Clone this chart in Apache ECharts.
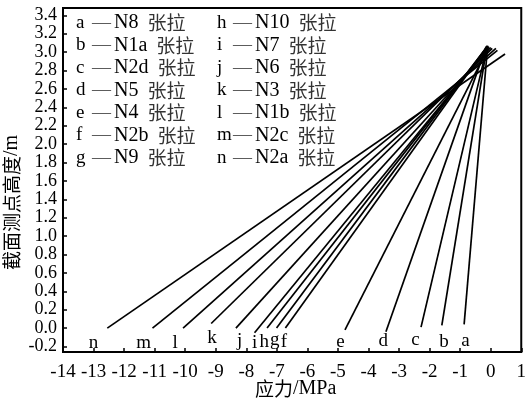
<!DOCTYPE html>
<html>
<head>
<meta charset="utf-8">
<script src="https://cdn.jsdelivr.net/npm/echarts@6/dist/echarts.min.js"></script>
<style>html,body{margin:0;padding:0;background:#fff}#c{width:529px;height:401px}</style>
</head>
<body>
<div id="c"></div>
<script>
// ---- data ----
const letters   = ['a','b','c','d','e','f','g','h','i','j','k','l','m','n'];
const names     = ['N8','N1a','N2d','N5','N4','N2b','N9','N10','N7','N6','N3','N1b','N2c','N2a'];
const bottomX   = [-0.87,-1.60,-2.28,-3.43,-4.77,-6.72,-7.01,-7.32,-7.73,-8.34,-9.15,-10.07,-11.07,-12.55];
const bottomY   = [0.04,0.03,0.01,-0.04,-0.02,0.0,0.0,0.0,-0.05,0.0,0.05,0.0,0.0,0.0];
const topX      = [-0.10,-0.12,-0.12,-0.15,-0.06,-0.12,-0.12,-0.10,-0.08,0.0,0.05,0.17,0.22,0.47];
const topY      = [3.07,3.07,3.06,3.06,3.06,3.06,3.06,3.06,3.05,3.05,3.04,3.04,3.02,2.98];
const labelX    = [-0.83,-1.53,-2.46,-3.52,-4.92,-6.77,-7.07,-7.41,-7.73,-8.22,-9.12,-10.33,-11.36,-13.0];
const labelY    = [-0.14,-0.15,-0.13,-0.14,-0.15,-0.15,-0.13,-0.15,-0.16,-0.14,-0.11,-0.16,-0.16,-0.16];
const yTickVals = [-0.2,0,0.2,0.4,0.6,0.8,1.0,1.2,1.4,1.6,1.8,2.0,2.2,2.4,2.6,2.8,3.0,3.2,3.4];
const xName = '应力/MPa';
const yName = '截面测点高度/m';
const tension = '张拉';

const SERIF = 'Liberation Serif';
const CJK = 'Noto Sans CJK SC';

const series = letters.map((l, i) => ({
  type: 'line',
  name: l,
  data: [[bottomX[i], bottomY[i]], [topX[i], topY[i]]],
  showSymbol: false,
  lineStyle: { color: '#000', width: 1.7 },
  silent: true
}));
series.push({
  type: 'scatter',
  data: letters.map((l, i) => [labelX[i], labelY[i], l]),
  symbolSize: 0.1,
  clip: false,
  itemStyle: { color: '#fff' },
  label: {
    show: true, position: 'inside',
    formatter: p => p.value[2],
    fontFamily: SERIF, fontSize: 19, color: '#000',
    textBorderWidth: 0, textBorderColor: 'transparent', opacity: 1
  },
  labelLayout: { hideOverlap: false },
  silent: true,
  z: 5
});

const graphics = [];
const rowY0 = 24, rowDy = 22.5;
letters.forEach((l, i) => {
  const col = i < 7 ? 0 : 1;
  const row = i % 7;
  const x = col === 0 ? 76 : 217;
  graphics.push({
    type: 'text', left: x, top: rowY0 + row * rowDy - 11,
    style: {
      text: `{l|${l}}{d|—}{n|${names[i]}}{c|${tension}}`,
      rich: {
        l: { fontFamily: SERIF, fontSize: 19, fill: '#000', width: 16 },
        d: { fontFamily: SERIF, fontSize: 19, fill: '#555', padding: [0, 3, 0, 0] },
        n: { fontFamily: SERIF, fontSize: 20, fill: '#000', padding: [0, 9, 0, 0] },
        c: { fontFamily: CJK, fontSize: 19, fill: '#333' }
      }
    }
  });
});
graphics.push({
  type: 'text', left: 255, top: 379,
  style: {
    text: `{c|应力}{s|/MPa}`,
    rich: {
      c: { fontFamily: CJK, fontSize: 19, fill: '#000' },
      s: { fontFamily: SERIF, fontSize: 20, fill: '#000' }
    }
  }
});
graphics.push({
  type: 'text', x: 2, y: 270, rotation: Math.PI / 2,
  style: {
    text: `{c|截面测点高度}{s|/m}`,
    rich: {
      c: { fontFamily: CJK, fontSize: 19, fill: '#000' },
      s: { fontFamily: SERIF, fontSize: 20, fill: '#000' }
    }
  }
});

const chart = echarts.init(document.getElementById('c'), null, { renderer: 'canvas' });
chart.setOption({
  animation: false,
  backgroundColor: '#fff',
  grid: { left: 63, right: 2, top: 8, bottom: 49, show: true, borderColor: '#000', borderWidth: 2 },
  xAxis: {
    type: 'value', min: -14, max: 1, interval: 1,
    axisLine: { onZero: false, lineStyle: { color: '#000', width: 2 } },
    axisTick: { inside: true, length: 4, lineStyle: { color: '#000', width: 1.5 } },
    axisLabel: { fontFamily: SERIF, fontSize: 19, color: '#000', margin: 11, showMaxLabel: true, showMinLabel: true },
    splitLine: { show: false }
  },
  yAxis: {
    type: 'value', min: -0.26, max: 3.48,
    axisLine: { show: true, onZero: false, lineStyle: { color: '#000', width: 2 } },
    axisTick: { show: true, inside: true, length: 4, customValues: yTickVals, lineStyle: { color: '#000', width: 1.5 } },
    axisLabel: { fontFamily: SERIF, fontSize: 18, lineHeight: 16, color: '#000', margin: 6, customValues: yTickVals,
                 showMinLabel: true, showMaxLabel: true, hideOverlap: false, formatter: v => v.toFixed(1) },
    splitLine: { show: false }
  },
  graphic: graphics,
  series
});
</script>
</body>
</html>
